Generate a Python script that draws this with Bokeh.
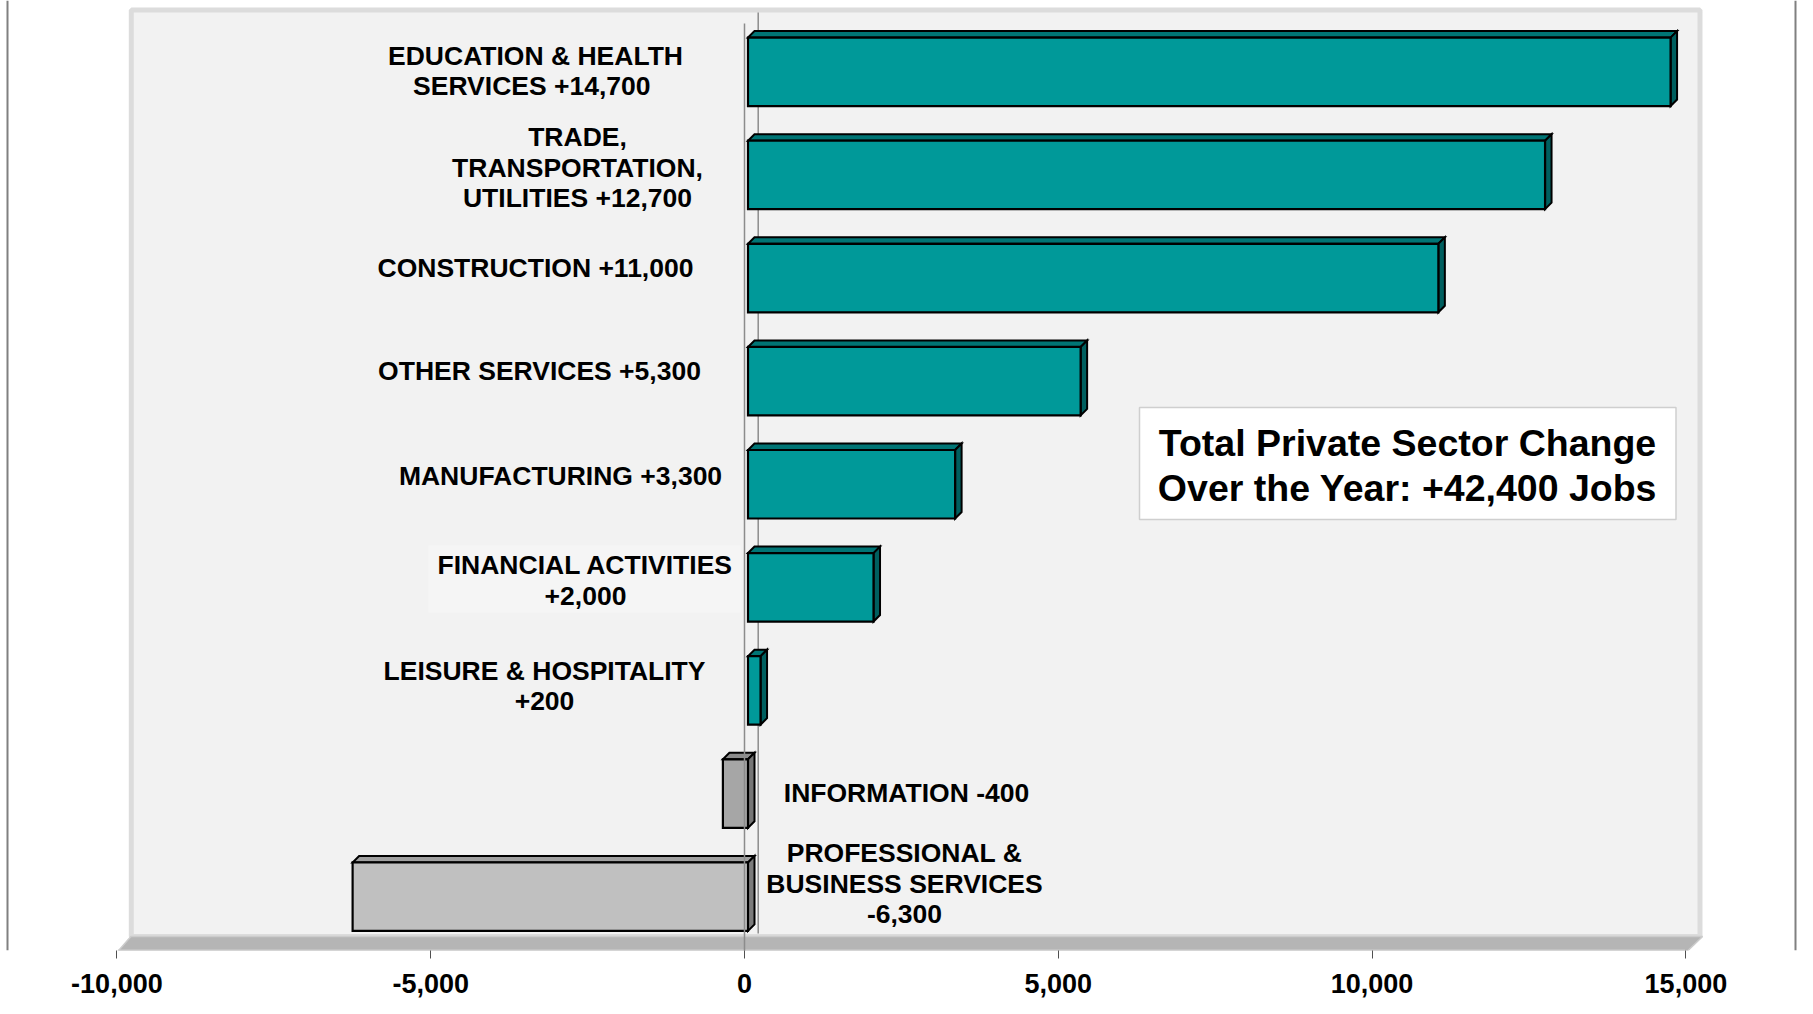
from bokeh.plotting import figure
from bokeh.models import Range1d, FixedTicker, Span
from bokeh.core.properties import value
from bokeh.embed import file_html
from bokeh.resources import INLINE

# ---------------- data ----------------
categories = [
    "EDUCATION & HEALTH\nSERVICES  +14,700",
    "TRADE,\nTRANSPORTATION,\nUTILITIES +12,700",
    "CONSTRUCTION +11,000",
    "OTHER SERVICES +5,300",
    "MANUFACTURING +3,300",
    "FINANCIAL ACTIVITIES\n+2,000",
    "LEISURE & HOSPITALITY\n+200",
    "INFORMATION -400",
    "PROFESSIONAL &\nBUSINESS SERVICES\n-6,300",
]
changes = [14700, 12700, 11000, 5300, 3300, 2000, 200, -400, -6300]
tick_values = [-10000, -5000, 0, 5000, 10000, 15000]
tick_labels = ["-10,000", "-5,000", "0", "5,000", "10,000", "15,000"]
total_text = "Total Private Sector Change\nOver the Year: +42,400 Jobs"

# ---------------- layout / style ----------------
W, H = 1797, 998
BOTTOM = 48
FH = H - BOTTOM
PX = 0.06276          # pixels per job
X0 = 744.0            # canvas x of zero
Y0 = 71.35            # canvas y of first bar centre
BAND = 103.1          # pixels per category
FONT = "Liberation Sans"

def sx(cx):
    return (cx - X0) / PX

def sy(cy):
    return (cy - Y0) / BAND

def dx(px):
    return px / PX

def dy(px):
    return px / BAND

label_cx = [535, 577, 535, 539, 560, 585, 544, 906, 904]
label_dy = [-0.8, -7.2, -9.6, -10.6, -7.8, -6.9, -4.3, -1.0, -12.9]
front_colors = ["#009999"] * 7 + ["#a6a6a6", "#c0c0c0"]
top_colors = ["#007575"] * 7 + ["#8c8c8c", "#a0a0a0"]
side_colors = ["#005f5f"] * 7 + ["#767676", "#7c7c7c"]

p = figure(width=W, height=H, output_backend="svg", toolbar_location=None,
           x_range=Range1d(sx(0), sx(W)), y_range=Range1d(sy(FH), sy(0)),
           y_axis_location=None, min_border_left=0, min_border_right=0,
           min_border_top=0, min_border_bottom=BOTTOM)
p.grid.visible = False
p.outline_line_color = None
p.background_fill_color = "white"
p.border_fill_color = "white"

# back wall
p.quad(left=[sx(130.8)], right=[sx(1699.5)], top=[sy(9.5)], bottom=[sy(936)],
       fill_color="#f2f2f2", line_color="#dcdcdc", line_width=5)
# faint label panel behind the financial activities label
p.quad(left=[sx(428)], right=[sx(740)], top=[sy(545)], bottom=[sy(612)],
       fill_color="#f5f5f5", line_color=None)
# floor
fl, fr = tick_values[0], tick_values[-1]
p.patch(x=[fl, fr, fr + dx(16.7), fl + dx(14)], y=[sy(952), sy(952), sy(936), sy(936)],
        fill_color="#b5b5b5", line_color="#cccccc", line_width=1.5)
p.segment(x0=[fl + dx(1)], x1=[fr - dx(1)], y0=[sy(950.5)], y1=[sy(950.5)], line_color="#d0d0d0", line_width=3)
# back zero line
p.segment(x0=[dx(13.7)], x1=[dx(13.7)], y0=[sy(12)], y1=[sy(933)], line_color="#8c8c8c", line_width=1.5)

# bars (3D)
shift = dx(3.5)
ddx, ddy = dx(6.5), dy(6.5)
hh = 0.332
L, R, T, B = [], [], [], []
tops_x, tops_y, sides_x, sides_y = [], [], [], []
for i, v in enumerate(changes):
    l = min(0, v) + shift
    r = max(0, v) + shift
    t = i - hh
    b = i + hh
    L.append(l); R.append(r); T.append(t); B.append(b)
    tops_x.append([l, r, r + ddx, l + ddx])
    tops_y.append([t, t, t - ddy, t - ddy])
    sides_x.append([r, r + ddx, r + ddx, r])
    sides_y.append([t, t - ddy, b - ddy, b])

p.patches(xs=tops_x, ys=tops_y, fill_color=top_colors, line_color="black", line_width=2, line_join="miter")
p.patches(xs=sides_x, ys=sides_y, fill_color=side_colors, line_color="black", line_width=2, line_join="miter")
p.quad(left=L, right=R, top=T, bottom=B, fill_color=front_colors, line_color="black", line_width=2.2,
       line_join="miter")

# front zero line
p.segment(x0=[0], x1=[0], y0=[sy(23)], y1=[sy(952)], line_color="#8c8c8c", line_width=1.5)

# category labels
p.text(x=[sx(c) for c in label_cx], y=[i + dy(d) for i, d in enumerate(label_dy)], text=categories,
       text_font=value(FONT), text_font_style="bold", text_font_size="26.5px", text_color="black",
       text_align="center", text_baseline="middle", text_line_height=1.01)

# total box
p.quad(left=[sx(1139)], right=[sx(1675.5)], top=[sy(407)], bottom=[sy(519)],
       fill_color="white", line_color="#cfcfcf", line_width=1.5)
p.text(x=[sx(1407)], y=[sy(465)], text=[total_text], text_font=value(FONT),
       text_font_style="bold", text_font_size="37.5px", text_color="black",
       text_align="center", text_baseline="middle", text_line_height=1.05)

# page edge lines
for cx in (7.0, W - 2.0):
    p.add_layout(Span(location=sx(cx), dimension="height", line_color="#808080", line_width=2))

ax = p.xaxis[0]
ax.ticker = FixedTicker(ticks=tick_values)
ax.major_label_overrides = {v: s for v, s in zip(tick_values, tick_labels)}
ax.axis_line_color = None
ax.major_tick_in = 0
ax.major_tick_out = 8
ax.major_tick_line_color = "#505050"
ax.minor_tick_line_color = None
ax.major_label_standoff = 15
ax.major_label_text_font = FONT
ax.major_label_text_font_style = "bold"
ax.major_label_text_font_size = "27px"
ax.major_label_text_color = "black"

open("out.html", "w").write(file_html(p, INLINE))
